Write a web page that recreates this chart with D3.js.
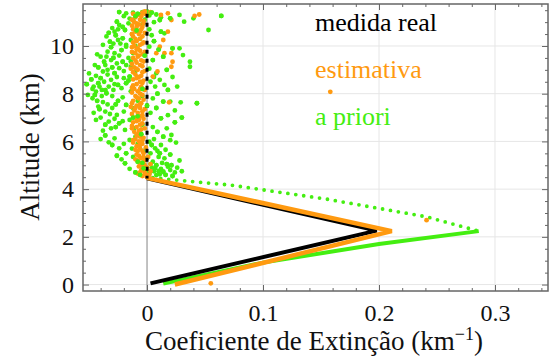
<!DOCTYPE html>
<html>
<head>
<meta charset="utf-8">
<script src="https://d3js.org/d3.v7.min.js"></script>
<style>
  body { margin: 0; background: #fff; }
  text { font-family: "Liberation Serif", "Times New Roman", serif; }
</style>
</head>
<body>
<div id="chart"></div>
<script>
// axis ticks
const xTicks = [0, 0.1, 0.2, 0.3];
const yTicks = [0, 2, 4, 6, 8, 10];
const xTickLabels = ["0", "0.1", "0.2", "0.3"];

// "medida real" profile
const realUpper = [[0, 11.35], [0, 4.45]];
const realLower = [[0, 4.45], [0.198, 2.26], [0.003, 0.05]];

// "estimativa" profile below 4.5 km
const estLine = [[0, 4.47], [0.211, 2.24], [0.024, 0.0]];

// "a priori" profile below 4.5 km
const prioriUpper = [[0.005, 4.48], [0.021, 4.4], [0.072, 4.17], [0.155, 3.58], [0.241, 2.84], [0.286, 2.24]];
const prioriLower = [[0.286, 2.24], [0.2, 1.7], [0.1, 0.92], [0.014, 0.04]];

// "a priori" scatter above 4.5 km
const prioriPoints = [
  [-0.024,11.42],[-0.018,11.37],[-0.012,11.4],[-0.008,11.35],[-0.004,11.42],[0.0,11.45],[0.004,11.4],[0.008,11.32],
  [0.012,11.2],[0.02,11.16],[0.028,11.3],[0.04,11.16],[0.064,11.26],[-0.006,11.3],[0.002,11.28],
  [-0.026,11.02],[-0.024,10.88],[-0.016,10.95],[-0.019,10.67],[-0.028,10.6],[-0.012,11.09],[0.011,11.09],
  [0.032,11.02],[0.053,10.67],[0.012,10.6],[0.015,10.53],[-0.03,10.75],[-0.021,10.8],[-0.004,10.9],[0.002,10.7],
  [-0.032,10.18],[-0.029,10.1],[-0.025,10.25],[-0.021,10.32],[-0.014,10.25],[-0.035,10.4],[-0.027,10.45],
  [-0.018,10.05],[0.002,9.97],[0.022,9.9],[0.028,9.9],[-0.006,10.3],[0.006,10.2],
  [-0.034,9.76],[-0.028,9.7],[-0.022,9.83],[-0.018,9.97],[-0.012,9.7],[-0.037,9.34],[-0.031,9.41],[-0.026,9.27],
  [-0.021,9.34],[0.031,9.62],[0.037,9.34],[0.005,9.41],[-0.04,9.55],[-0.016,9.5],[-0.002,9.6],
  [-0.038,8.93],[-0.034,9.0],[-0.028,8.86],[-0.024,9.07],[-0.014,9.13],[-0.015,8.72],[0.037,9.13],[0.008,8.86],
  [-0.042,9.1],[-0.02,8.95],[0.002,9.05],
  [-0.042,8.44],[-0.037,8.5],[-0.031,8.58],[-0.025,8.37],[-0.044,8.09],[-0.039,8.16],[-0.035,8.02],[-0.029,8.16],
  [-0.022,8.23],[-0.018,8.44],[0.011,8.58],[0.015,8.37],[0.018,8.16],[0.007,8.3],[-0.046,8.3],[-0.048,8.6],
  [-0.033,8.3],[-0.02,8.65],[-0.004,8.2],[0.003,8.5],
  [-0.047,7.81],[-0.045,7.95],[-0.042,7.46],[-0.036,7.25],[-0.018,7.53],[-0.012,7.39],[0.005,7.8],[0.014,7.67],
  [0.02,7.67],[0.029,7.64],[0.043,7.6],[-0.038,7.65],[-0.03,7.9],[-0.025,7.7],[-0.03,7.4],[-0.008,7.7],[0.0,7.5],
  [-0.033,6.83],[-0.026,7.11],[-0.024,6.76],[-0.031,6.55],[-0.019,6.48],[0.012,6.97],[0.017,6.55],[-0.04,7.0],
  [-0.036,6.7],[-0.028,6.95],[-0.015,6.9],[-0.008,7.05],[-0.004,6.7],[0.005,6.6],[0.024,6.8],
  [-0.033,5.96],[-0.024,5.71],[-0.018,5.5],[-0.015,6.06],[-0.028,6.13],[0.014,6.2],[0.021,6.27],[0.012,5.85],
  [0.011,5.5],[0.007,5.71],[0.002,5.99],[-0.036,6.25],[-0.008,5.9],[-0.003,5.6],[0.004,5.85],[-0.01,6.2],[0.016,5.65],
  [-0.019,5.08],[0.015,5.29],[0.018,4.94],[0.014,4.73],[0.008,4.59],[0.002,4.66],[-0.003,4.87],[0.005,5.15],
  [0.0,5.3],[0.008,5.0],[0.012,4.85],[0.02,4.8],[-0.006,4.6],[0.004,4.9],[0.01,5.35],[0.017,5.05],[0.024,4.7],
  [0.026,4.9],[-0.004,5.1],[0.006,4.75],[0.011,4.62],[0.022,4.55],
  [-0.02,11.25],[-0.015,11.15],[-0.01,11.25],[-0.002,11.1],[0.006,11.0],
  [-0.033,10.55],[-0.025,10.7],[-0.013,10.5],[-0.009,10.65],[0.004,10.45],
  [-0.038,10.05],[-0.031,9.95],[-0.023,10.1],[-0.01,10.0],[0.01,9.85],
  [-0.043,9.65],[-0.035,9.55],[-0.029,9.5],[-0.024,9.6],[-0.014,9.35],[0.014,9.55],
  [-0.045,9.2],[-0.036,9.2],[-0.03,9.1],[-0.018,9.2],[-0.01,8.95],[0.017,9.0],
  [-0.05,8.85],[-0.044,8.75],[-0.04,8.65],[-0.034,8.8],[-0.026,8.7],[-0.016,8.55],[0.006,8.7],[0.022,8.7],
  [-0.052,8.4],[-0.047,8.2],[-0.041,8.3],[-0.036,8.15],[-0.028,8.4],[-0.014,8.1],[0.009,8.0],[0.026,8.3],
  [-0.051,7.95],[-0.043,7.7],[-0.039,7.9],[-0.034,7.55],[-0.027,7.55],[-0.021,7.85],[-0.004,7.9],[0.008,7.4],[0.024,7.3],
  [-0.046,7.2],[-0.041,7.35],[-0.032,7.15],[-0.02,7.25],[-0.012,7.0],[0.003,7.2],[0.018,7.1],[0.03,7.0],
  [-0.044,6.9],[-0.038,6.45],[-0.027,6.6],[-0.021,6.85],[-0.011,6.55],[0.009,6.4],[0.02,6.05],
  [-0.04,6.1],[-0.03,5.85],[-0.02,5.9],[-0.013,5.7],[-0.005,6.3],[0.006,6.1],[0.025,5.95],
  [-0.026,5.4],[-0.022,5.25],[-0.012,5.35],[-0.008,5.15],[0.003,5.5],[0.009,5.6],[0.02,5.45],[0.028,5.2],
  [-0.015,4.85],[-0.01,4.7],[0.0,4.8],[0.01,4.75],[0.016,4.6],[0.007,4.88],[0.013,5.1],[0.021,5.0],[0.03,4.75],[0.003,5.05]
];

// "estimativa" scatter above 4.5 km and outliers
const estPoints = [
  [-0.004,11.4],[-0.008,11.3],[-0.01,11.2],[-0.006,11.1],[-0.011,11.0],[-0.007,10.9],[-0.009,10.8],[-0.005,10.7],
  [-0.01,10.6],[-0.007,10.5],[-0.012,10.4],[-0.006,10.3],[-0.009,10.2],[-0.004,10.1],[-0.011,10.0],[-0.008,9.9],
  [-0.006,9.8],[-0.01,9.7],[-0.007,9.6],[-0.012,9.5],[-0.005,9.4],[-0.009,9.3],[-0.006,9.2],[-0.011,9.1],
  [-0.008,9.0],[-0.004,8.9],[-0.01,8.8],[-0.007,8.7],[-0.012,8.6],[-0.006,8.5],[-0.009,8.4],[-0.005,8.3],
  [-0.011,8.2],[-0.008,8.1],[-0.006,8.0],[-0.01,7.9],[-0.007,7.8],[-0.012,7.7],[-0.005,7.6],[-0.009,7.5],
  [-0.006,7.4],[-0.011,7.3],[-0.008,7.2],[-0.004,7.1],[-0.01,7.0],[-0.007,6.9],[-0.012,6.8],[-0.006,6.7],
  [-0.009,6.6],[-0.005,6.5],[-0.011,6.4],[-0.008,6.3],[-0.006,6.2],[-0.01,6.1],[-0.007,6.0],[-0.004,5.9],
  [-0.009,5.8],[-0.006,5.7],[-0.008,5.6],[-0.003,5.5],[-0.007,5.4],[-0.005,5.3],[-0.002,5.2],[-0.006,5.1],
  [-0.004,5.0],[0.0,4.9],[-0.005,4.8],[-0.002,4.7],[-0.008,4.65],[0.002,4.6],[-0.004,4.55],[0.0,4.5],
  [-0.002,11.35],[-0.003,10.95],[-0.002,10.55],[-0.003,10.15],[-0.002,9.75],[-0.003,9.35],[-0.002,8.95],
  [-0.003,8.55],[-0.002,8.15],[-0.003,7.75],[-0.002,7.35],[-0.003,6.95],[-0.002,6.55],[-0.003,6.15],
  [-0.001,5.75],[0.001,5.35],[0.003,5.05],
  [-0.013,10.85],[-0.013,9.95],[-0.014,9.05],[-0.013,8.25],[-0.014,7.45],[-0.013,6.65],[-0.012,5.95],[-0.01,5.25],
  [-0.002,11.45],[0.003,11.42],
  [-0.012,11.35],[-0.005,11.25],[-0.013,11.1],[-0.003,11.05],[-0.009,10.95],[-0.004,10.8],[-0.012,10.7],
  [-0.006,10.6],[-0.013,10.5],[-0.004,10.4],[-0.01,10.3],[-0.012,10.15],[-0.006,10.05],[-0.009,9.85],
  [-0.013,9.75],[-0.004,9.65],[-0.008,9.55],[-0.01,9.4],[-0.013,9.25],[-0.004,9.15],[-0.009,9.05],
  [-0.012,8.9],[-0.005,8.75],[-0.009,8.65],[-0.004,8.45],[-0.012,8.35],[-0.006,8.2],[-0.013,8.05],
  [-0.004,7.95],[-0.009,7.85],[-0.013,7.6],[-0.006,7.55],[-0.01,7.4],[-0.004,7.25],[-0.013,7.15],
  [-0.006,7.05],[-0.009,6.85],[-0.004,6.75],[-0.013,6.55],[-0.007,6.45],[-0.009,6.25],[-0.004,6.05],
  [-0.012,6.05],[-0.006,5.85],[-0.01,5.65],[-0.004,5.6],[-0.009,5.45],[-0.003,5.35],[-0.008,5.2],
  [-0.002,5.0],[-0.007,4.95],[-0.003,4.85],[-0.006,4.7],[0.003,4.75],[-0.001,4.62],
  [0.012,11.3],[0.018,11.37],[0.021,11.09],[0.041,11.26],[0.045,11.32],[0.018,10.6],[0.014,10.25],[0.011,9.97],
  [0.015,9.7],[0.021,9.7],[0.022,9.34],[0.021,9.13],[0.008,9.7],[0.009,8.93],[0.005,8.72],[0.019,7.64],
  [0.158,8.08],[0.241,2.7],[0.055,0.05]
];

const W = 552, H = 360;
const mLeft = 83, mRight = 548, mTop = 4, mBottom = 291;
const black = "#000000", orange = "#ff9a10", green = "#44ee11";
const dotR = 2.4;

const svg = d3.select("#chart").append("svg")
  .attr("width", W).attr("height", H);

const x = d3.scaleLinear().domain([-0.0552, 0.3457]).range([mLeft, mRight]);
const y = d3.scaleLinear().domain([-0.27, 11.76]).range([mBottom, mTop]);

// gridlines
svg.append("g").selectAll("line").data(xTicks.filter(d => d !== 0)).join("line")
  .attr("x1", d => x(d)).attr("x2", d => x(d)).attr("y1", mTop).attr("y2", mBottom)
  .attr("stroke", "#e6e6e6").attr("stroke-width", 1);
svg.append("g").selectAll("line").data(yTicks).join("line")
  .attr("x1", mLeft).attr("x2", mRight).attr("y1", d => y(d)).attr("y2", d => y(d))
  .attr("stroke", "#e6e6e6").attr("stroke-width", 1);

// zero line
svg.append("line")
  .attr("x1", x(0)).attr("x2", x(0)).attr("y1", mTop).attr("y2", mBottom)
  .attr("stroke", "#999").attr("stroke-width", 1.2);

const line = d3.line().x(d => x(d[0])).y(d => y(d[1]));

// a priori
svg.append("path").datum(prioriLower).attr("d", line)
  .attr("fill", "none").attr("stroke", green).attr("stroke-width", 4);
svg.append("path").datum(prioriUpper).attr("d", line)
  .attr("fill", "none").attr("stroke", green).attr("stroke-width", 3.8)
  .attr("stroke-linecap", "round").attr("stroke-dasharray", "0 8");
svg.append("g").selectAll("circle").data(prioriPoints).join("circle")
  .attr("cx", d => x(d[0])).attr("cy", d => y(d[1])).attr("r", dotR).attr("fill", green);

// medida real (diagonal)
svg.append("path").datum(realLower).attr("d", line)
  .attr("fill", "none").attr("stroke", black).attr("stroke-width", 4);

// estimativa
svg.append("path").datum(estLine).attr("d", line)
  .attr("fill", "none").attr("stroke", orange).attr("stroke-width", 4.5);
svg.append("g").selectAll("circle").data(estPoints).join("circle")
  .attr("cx", d => x(d[0])).attr("cy", d => y(d[1])).attr("r", dotR).attr("fill", orange);

// medida real (vertical part)
svg.append("path").datum(realUpper).attr("d", line)
  .attr("fill", "none").attr("stroke", black).attr("stroke-width", 3)
  .attr("stroke-dasharray", "4 5");

// part of the green cloud drawn over the rest
svg.append("g").selectAll("circle").data(prioriPoints.filter((d, i) => i % 3 === 0)).join("circle")
  .attr("cx", d => x(d[0])).attr("cy", d => y(d[1])).attr("r", dotR).attr("fill", green);

// frame and ticks
const frameColor = "#666";
const xMinor = d3.range(-0.04, 0.35, 0.02).filter(v => Math.abs(Math.round(v * 10) - v * 10) > 1e-6);
const yMinor = d3.range(0, 11.6, 0.5).filter(v => v % 2 !== 0);

function styleAxis(g) {
  g.select(".domain").remove();
  g.selectAll("line").attr("stroke", frameColor).attr("stroke-width", 1);
  g.selectAll("text").attr("font-size", 24).attr("fill", "#111")
    .style("font-family", '"Liberation Serif", "Times New Roman", serif');
}

svg.append("g").attr("transform", `translate(0,${mBottom})`)
  .call(d3.axisBottom(x).tickValues(xTicks).tickFormat((d, i) => xTickLabels[i]).tickSize(-6).tickPadding(13))
  .call(styleAxis);
svg.append("g").attr("transform", `translate(0,${mBottom})`)
  .call(d3.axisBottom(x).tickValues(xMinor).tickFormat("").tickSize(-3)).call(styleAxis);
svg.append("g").attr("transform", `translate(0,${mTop})`)
  .call(d3.axisTop(x).tickValues(xTicks).tickFormat("").tickSize(-6)).call(styleAxis);
svg.append("g").attr("transform", `translate(0,${mTop})`)
  .call(d3.axisTop(x).tickValues(xMinor).tickFormat("").tickSize(-3)).call(styleAxis);

svg.append("g").attr("transform", `translate(${mLeft},0)`)
  .call(d3.axisLeft(y).tickValues(yTicks).tickSize(-6).tickPadding(9))
  .call(styleAxis);
svg.append("g").attr("transform", `translate(${mLeft},0)`)
  .call(d3.axisLeft(y).tickValues(yMinor).tickFormat("").tickSize(-3)).call(styleAxis);
svg.append("g").attr("transform", `translate(${mRight},0)`)
  .call(d3.axisRight(y).tickValues(yTicks).tickFormat("").tickSize(-6)).call(styleAxis);
svg.append("g").attr("transform", `translate(${mRight},0)`)
  .call(d3.axisRight(y).tickValues(yMinor).tickFormat("").tickSize(-3)).call(styleAxis);

svg.append("rect")
  .attr("x", mLeft).attr("y", mTop).attr("width", mRight - mLeft).attr("height", mBottom - mTop)
  .attr("fill", "none").attr("stroke", frameColor).attr("stroke-width", 1.5);

// axis titles
const xt = svg.append("text").attr("x", 314).attr("y", 350)
  .attr("text-anchor", "middle").attr("font-size", 27).attr("fill", "#111");
xt.append("tspan").text("Coeficiente de Extinção (km");
xt.append("tspan").attr("dy", -10).attr("font-size", 18).text("−1");
xt.append("tspan").attr("dy", 10).text(")");

svg.append("text")
  .attr("transform", "translate(39,147) rotate(-90)")
  .attr("text-anchor", "middle").attr("font-size", 27).attr("fill", "#111")
  .text("Altitude (km)");

// legend
const legend = [["medida real", black], ["estimativa", orange], ["a priori", green]];
svg.append("g").selectAll("text").data(legend).join("text")
  .attr("x", 315).attr("y", (d, i) => 31 + i * 47)
  .attr("font-size", 26).attr("fill", d => d[1])
  .text(d => d[0]);
</script>
</body>
</html>
